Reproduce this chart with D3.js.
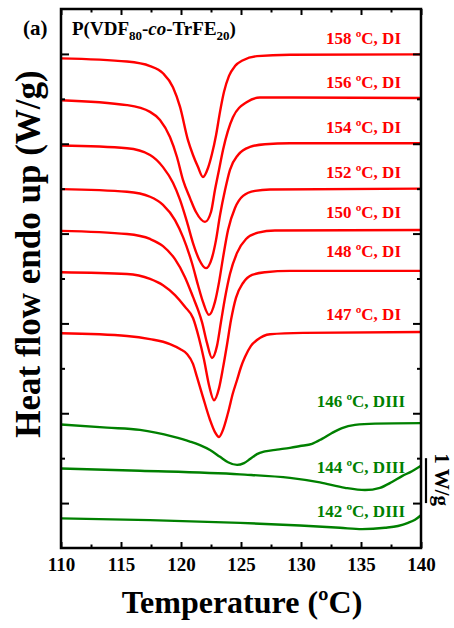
<!DOCTYPE html>
<html>
<head>
<meta charset="utf-8">
<script src="https://cdn.jsdelivr.net/npm/d3@7"></script>
<style>
  html, body { margin: 0; padding: 0; background: #fff; }
  svg { display: block; font-family: "Liberation Serif", "Times New Roman", serif; font-weight: bold; }
</style>
</head>
<body>
<svg id="chart" width="454" height="628"></svg>
<script>
// ---- axis ticks ----
const xTicksMajor = [110, 115, 120, 125, 130, 135, 140];
const xTicksMinor = [112.5, 117.5, 122.5, 127.5, 132.5, 137.5];
const yTicksMajor = [1, 3, 5, 7, 9, 11];
const yTicksMinor = [2, 4, 6, 8, 10];

// ---- DSC traces: [temperature (°C), heat flow (W/g, stacked offset)] ----
const curve158 = [[110,10.90],[115.5,10.83],[117.42,10.73],[118.5,10.57],[119.33,10.26],[119.92,9.82],[120.58,9.08],[121.0,8.75],[121.42,8.48],[121.83,8.26],[122.25,8.46],[122.58,8.77],[122.92,9.19],[123.25,9.71],[123.58,10.15],[124.0,10.51],[124.5,10.73],[125.17,10.86],[126.33,10.95],[129.08,10.98],[140,10.99]];
const curve156 = [[110,9.97],[115.5,9.86],[117.42,9.71],[118.25,9.53],[119.08,9.15],[119.67,8.70],[120.17,8.19],[120.75,7.79],[121.25,7.48],[122.0,7.26],[122.5,7.48],[122.83,7.97],[123.17,8.42],[123.5,8.86],[124.33,9.59],[125.5,9.93],[126.58,10.03],[129.08,10.03],[140,10.02]];
const curve154 = [[110,8.96],[115.5,8.90],[117.42,8.75],[118.5,8.48],[119.33,8.13],[119.92,7.75],[120.5,7.26],[121.0,6.79],[121.5,6.43],[122.08,6.23],[122.58,6.46],[122.92,6.86],[123.25,7.41],[123.67,7.97],[124.08,8.42],[124.75,8.75],[125.75,8.93],[127.0,8.99],[129.08,9.01],[140,9.01]];
const curve152 = [[110,7.99],[115.5,7.93],[117.42,7.82],[118.5,7.64],[119.5,7.30],[120.17,6.92],[120.92,6.34],[121.42,5.85],[121.83,5.48],[122.33,5.19],[122.83,5.48],[123.17,5.92],[123.5,6.46],[123.92,7.08],[124.5,7.57],[125.17,7.84],[126.17,7.95],[127.42,7.98],[140,8.00]];
const curve150 = [[110,7.06],[115.5,6.99],[117.42,6.88],[118.5,6.72],[119.5,6.43],[120.33,6.03],[121.0,5.59],[121.42,5.30],[121.75,5.03],[122.17,4.56],[122.58,4.23],[123.0,4.50],[123.33,5.03],[123.67,5.57],[124.08,6.10],[124.67,6.57],[125.42,6.88],[126.42,7.02],[127.83,7.07],[140,7.08]];
const curve148 = [[110,6.14],[115.5,6.10],[117.42,5.99],[118.5,5.85],[119.5,5.63],[120.33,5.37],[121.0,5.12],[121.5,4.67],[121.92,4.19],[122.33,3.63],[122.75,3.29],[123.17,3.56],[123.5,4.01],[123.83,4.52],[124.17,5.08],[124.58,5.57],[125.17,5.90],[125.92,6.08],[127.0,6.14],[129.08,6.17],[140,6.17]];
const curve147 = [[110,4.78],[115.5,4.72],[117.42,4.65],[119.08,4.54],[119.92,4.43],[120.5,4.32],[121.0,4.10],[121.33,3.81],[121.83,3.36],[122.42,2.85],[122.83,2.58],[123.17,2.47],[123.5,2.63],[123.92,3.01],[124.33,3.45],[124.67,3.74],[125.0,4.03],[125.33,4.25],[125.83,4.50],[126.33,4.63],[127.42,4.76],[130.17,4.79],[140,4.81]];
const curve146 = [[110,2.75],[113.83,2.68],[116.58,2.63],[119.33,2.48],[120.75,2.37],[121.58,2.29],[122.42,2.18],[123.25,2.03],[123.92,1.91],[124.67,1.85],[125.25,1.89],[125.75,1.98],[126.33,2.09],[127.0,2.15],[128.0,2.19],[129.08,2.23],[129.92,2.27],[130.92,2.32],[131.75,2.43],[132.58,2.56],[133.42,2.67],[134.5,2.74],[136.17,2.77],[140,2.78]];
const curve144 = [[110,1.77],[116.58,1.72],[124.92,1.64],[129.08,1.56],[131.58,1.46],[133.67,1.34],[135.33,1.29],[136.58,1.34],[137.58,1.47],[138.42,1.60],[139.25,1.71],[140,1.83]];
const curve142 = [[110,0.66],[117.42,0.62],[124.92,0.56],[129.92,0.50],[133.25,0.45],[135.08,0.42],[137.0,0.45],[138.08,0.49],[138.92,0.56],[139.5,0.63],[140,0.73]];

// ---- trace labels and crystal phase ----
const traceLabels = ["158 ºC, DI", "156 ºC, DI", "154 ºC, DI", "152 ºC, DI", "150 ºC, DI", "148 ºC, DI", "147 ºC, DI", "146 ºC, DIII", "144 ºC, DIII", "142 ºC, DIII"];
const tracePhase = ["DI", "DI", "DI", "DI", "DI", "DI", "DI", "DIII", "DIII", "DIII"];
const traces = [curve158, curve156, curve154, curve152, curve150, curve148, curve147, curve146, curve144, curve142];

// ---- layout ----
const plot = { left: 61, right: 421, top: 9, bottom: 548 };
const phaseColor = { DI: "#ff0000", DIII: "#008000" };
// vertical label offset (px) from the trace's right end
const labelDy = [-10, -10, -10, -11, -12, -14, -12, -16, 7, 2];
const labelRight = { DI: 401, DIII: 405 };

const svg = d3.select("#chart");

const x = d3.scaleLinear().domain([110, 140]).range([plot.left, plot.right]);
const y = d3.scaleLinear().domain([0, 12]).range([plot.bottom, plot.top]);

// traces
const line = d3.line()
  .x(d => x(d[0]))
  .y(d => y(d[1]))
  .curve(d3.curveMonotoneX);

svg.append("g")
  .selectAll("path")
  .data(traces)
  .join("path")
  .attr("d", line)
  .attr("fill", "none")
  .attr("stroke", (d, i) => phaseColor[tracePhase[i]])
  .attr("stroke-width", 2.4)
  .attr("stroke-linejoin", "round");

// trace labels
svg.append("g")
  .selectAll("text")
  .data(traces)
  .join("text")
  .attr("x", (d, i) => labelRight[tracePhase[i]])
  .attr("y", (d, i) => y(d[d.length - 1][1]) + labelDy[i])
  .attr("text-anchor", "end")
  .attr("font-size", 17)
  .attr("fill", (d, i) => phaseColor[tracePhase[i]])
  .text((d, i) => traceLabels[i]);

// axes with inward ticks
function styleAxis(g) {
  g.select(".domain").remove();
  g.selectAll("line").attr("stroke", "#000").attr("stroke-width", 2);
}

svg.append("g")
  .attr("transform", `translate(0,${plot.bottom})`)
  .call(d3.axisBottom(x).tickValues(xTicksMajor).tickSize(-6).tickFormat(d3.format("d")))
  .call(styleAxis)
  .call(g => g.selectAll("text")
    .attr("y", 23).attr("dy", null)
    .attr("font-size", 19)
    .attr("font-family", "Liberation Serif, Times New Roman, serif")
    .attr("font-weight", "bold")
    .attr("fill", "#000"));

svg.append("g")
  .attr("transform", `translate(0,${plot.bottom})`)
  .call(d3.axisBottom(x).tickValues(xTicksMinor).tickSize(-3.5).tickFormat(""))
  .call(styleAxis);

svg.append("g")
  .attr("transform", `translate(0,${plot.top})`)
  .call(d3.axisTop(x).tickValues(xTicksMajor).tickSize(-6).tickFormat(""))
  .call(styleAxis);

svg.append("g")
  .attr("transform", `translate(0,${plot.top})`)
  .call(d3.axisTop(x).tickValues(xTicksMinor).tickSize(-3.5).tickFormat(""))
  .call(styleAxis);

svg.append("g")
  .attr("transform", `translate(${plot.left},0)`)
  .call(d3.axisLeft(y).tickValues(yTicksMajor).tickSize(-8).tickFormat(""))
  .call(styleAxis);

svg.append("g")
  .attr("transform", `translate(${plot.left},0)`)
  .call(d3.axisLeft(y).tickValues(yTicksMinor).tickSize(-4).tickFormat(""))
  .call(styleAxis);

svg.append("g")
  .attr("transform", `translate(${plot.right},0)`)
  .call(d3.axisRight(y).tickValues(yTicksMajor).tickSize(-8).tickFormat(""))
  .call(styleAxis);

svg.append("g")
  .attr("transform", `translate(${plot.right},0)`)
  .call(d3.axisRight(y).tickValues(yTicksMinor).tickSize(-4).tickFormat(""))
  .call(styleAxis);

// frame
svg.append("rect")
  .attr("x", plot.left).attr("y", plot.top)
  .attr("width", plot.right - plot.left).attr("height", plot.bottom - plot.top)
  .attr("fill", "none").attr("stroke", "#000").attr("stroke-width", 2.5);

// axis titles
svg.append("text")
  .attr("x", (plot.left + plot.right) / 2 + 1)
  .attr("y", 613)
  .attr("text-anchor", "middle")
  .attr("font-size", 32)
  .text("Temperature (ºC)");

svg.append("text")
  .attr("transform", `translate(40,254) rotate(-90)`)
  .attr("text-anchor", "middle")
  .attr("font-size", 35)
  .text("Heat flow endo up (W/g)");

// panel tag and sample name
svg.append("text")
  .attr("x", 23).attr("y", 35)
  .attr("font-size", 21)
  .text("(a)");

const title = svg.append("text")
  .attr("x", 72).attr("y", 35)
  .attr("font-size", 19);
title.append("tspan").text("P(VDF");
title.append("tspan").attr("font-size", 13).attr("dy", 5).text("80");
title.append("tspan").attr("dy", -5).text("-");
title.append("tspan").attr("font-style", "italic").text("co");
title.append("tspan").text("-TrFE");
title.append("tspan").attr("font-size", 13).attr("dy", 5).text("20");
title.append("tspan").attr("dy", -5).text(")");

// 1 W/g scale bar
const barX = 426;
svg.append("line")
  .attr("x1", barX).attr("x2", barX)
  .attr("y1", y(2)).attr("y2", y(1))
  .attr("stroke", "#000").attr("stroke-width", 2.2);

svg.append("text")
  .attr("transform", `translate(435,${(y(1) + y(2)) / 2 - 1}) rotate(90)`)
  .attr("text-anchor", "middle")
  .attr("font-size", 21)
  .text("1 W/g");
</script>
</body>
</html>
